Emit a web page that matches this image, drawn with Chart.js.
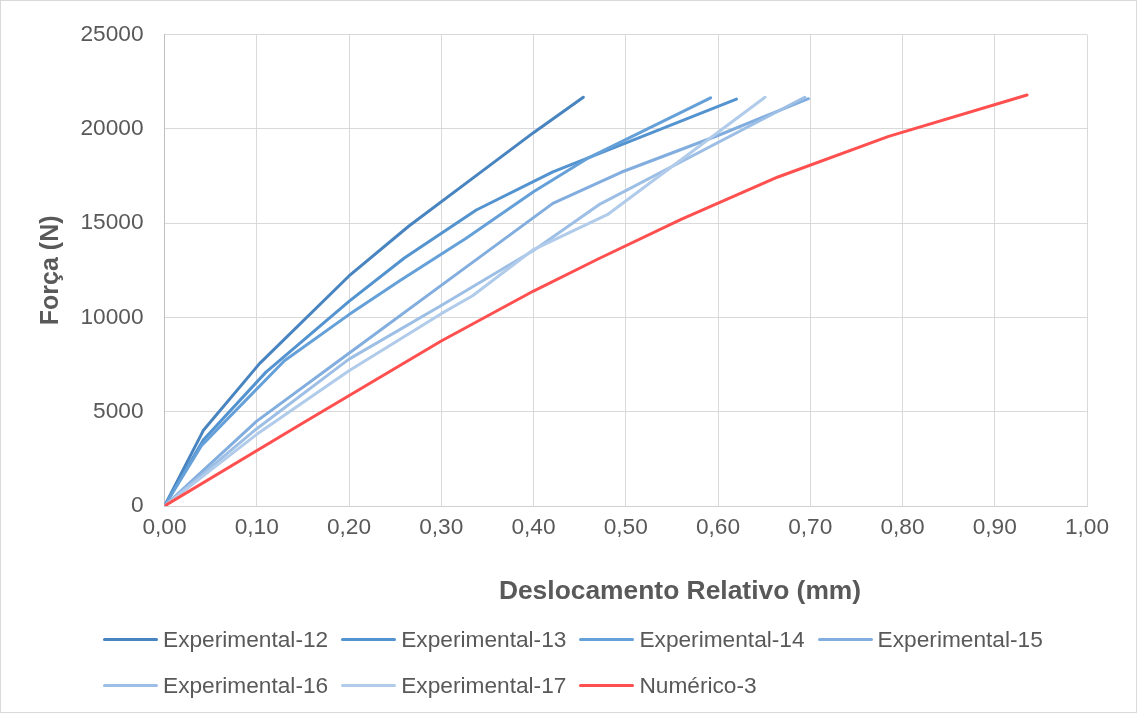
<!DOCTYPE html>
<html>
<head>
<meta charset="utf-8">
<script src="https://cdn.jsdelivr.net/npm/chart.js@4.4.1/dist/chart.umd.min.js"></script>
<style>
  html, body { margin: 0; padding: 0; background: #fff; }
  #wrap { position: relative; width: 1137px; height: 713px; }
  #frame { position: absolute; left: 0; top: 0; width: 1137px; height: 713px; box-sizing: border-box; border: 1px solid #d9d9d9; pointer-events: none; }
  #legend { position: absolute; left: 103px; top: 616px; width: 980px; display: flex; flex-wrap: wrap;
            font-family: 'Liberation Sans', Arial, sans-serif; font-size: 22.7px; color: #595959; }
  .item { display: flex; align-items: center; height: 46px; margin-right: 13px; white-space: nowrap; }
  .swatch { width: 55px; height: 3px; border-radius: 1.5px; margin-right: 5px; }
  #xtitle { position: absolute; left: 680px; top: 574px; transform: translateX(-50%); white-space: nowrap;
            font-family: 'Liberation Sans', Arial, sans-serif; font-size: 26.4px; font-weight: bold; color: #595959; line-height: 32px; }
</style>
</head>
<body>
<div id="wrap">
  <canvas id="c" width="1137" height="713"></canvas>
  <div id="xtitle"></div>
  <div id="legend"></div>
  <div id="frame"></div>
</div>
<script>
// ---- data ----
const seriesNames = ['Experimental-12','Experimental-13','Experimental-14','Experimental-15','Experimental-16','Experimental-17','Numérico-3'];
const seriesColors = ['#4884bf','#5393cf','#65a0d9','#82addf','#9dbfe5','#b1cbea','#ff4f4f'];

const exp12X = [0, 0.042, 0.103, 0.200, 0.265, 0.340, 0.400, 0.454];
const exp12Y = [0, 4000, 7550, 12200, 14850, 17600, 19800, 21680];

const exp13X = [0, 0.042, 0.110, 0.200, 0.260, 0.338, 0.421, 0.620];
const exp13Y = [0, 3500, 7100, 10850, 13150, 15700, 17720, 21580];

const exp14X = [0, 0.040, 0.130, 0.200, 0.255, 0.327, 0.400, 0.458, 0.592];
const exp14Y = [0, 3200, 7700, 10150, 11950, 14200, 16670, 18420, 21650];

const exp15X = [0, 0.100, 0.200, 0.300, 0.421, 0.495, 0.600, 0.698];
const exp15Y = [0, 4500, 8100, 11700, 16050, 17700, 19650, 21600];

const exp16X = [0, 0.100, 0.200, 0.300, 0.400, 0.471, 0.694];
const exp16Y = [0, 4100, 7790, 10630, 13550, 15980, 21680];

const exp17X = [0, 0.100, 0.200, 0.300, 0.334, 0.400, 0.480, 0.651];
const exp17Y = [0, 3800, 7170, 10200, 11150, 13600, 15450, 21680];

const num3X = [0, 0.150, 0.300, 0.400, 0.470, 0.560, 0.665, 0.785, 0.935];
const num3Y = [0, 4400, 8750, 11400, 13100, 15200, 17450, 19600, 21800];

const xTickLabels = ['0,00','0,10','0,20','0,30','0,40','0,50','0,60','0,70','0,80','0,90','1,00'];
const yTickLabels = ['0','5000','10000','15000','20000','25000'];
const xTitle = 'Deslocamento Relativo (mm)';
const yTitle = 'Força (N)';

// ---- build chart ----
const allX = [exp12X, exp13X, exp14X, exp15X, exp16X, exp17X, num3X];
const allY = [exp12Y, exp13Y, exp14Y, exp15Y, exp16Y, exp17Y, num3Y];
const n = seriesNames.length;
const datasets = seriesNames.map((name, i) => ({
  label: name,
  data: allX[i].map((x, k) => ({ x: x, y: allY[i][k] })),
  borderColor: seriesColors[i],
  backgroundColor: seriesColors[i],
  borderWidth: 3,
  borderCapStyle: 'round',
  borderJoinStyle: 'round',
  pointRadius: 0,
  showLine: true,
  tension: 0,
  order: n - 1 - i
}));

const FONT = "'Liberation Sans', Arial, sans-serif";
const TXT = '#595959';

new Chart(document.getElementById('c'), {
  type: 'scatter',
  data: { datasets },
  options: {
    responsive: false,
    animation: false,
    devicePixelRatio: 1,
    layout: { padding: { top: 32, right: 50, bottom: 97, left: 0 } },
    plugins: { legend: { display: false }, tooltip: { enabled: false } },
    scales: {
      x: {
        type: 'linear', min: 0, max: 1,
        ticks: { stepSize: 0.1, padding: 8, autoSkip: false, maxRotation: 0,
                 font: { family: FONT, size: 22.7 }, color: TXT,
                 callback: (v, i) => xTickLabels[i] },
        grid: { color: '#d9d9d9', lineWidth: 1, drawTicks: false },
        border: { color: '#d0d0d0', width: 1 },
        title: { display: false },
        afterFit: s => { s.height = 110; }
      },
      y: {
        type: 'linear', min: 0, max: 25000,
        ticks: { stepSize: 5000, padding: 21, font: { family: FONT, size: 22.7 }, color: TXT,
                 callback: (v, i) => yTickLabels[i] },
        grid: { color: '#d9d9d9', lineWidth: 1, drawTicks: false },
        border: { color: '#bfbfbf', width: 1 },
        title: { display: true, text: yTitle, color: TXT,
                 font: { family: FONT, size: 25, weight: 'bold' }, padding: { top: 36, bottom: 0 } },
        afterFit: s => { s.width = 164.5; }
      }
    }
  }
});

document.getElementById('xtitle').textContent = xTitle;

// ---- legend (HTML, from the same series arrays) ----
const leg = document.getElementById('legend');
seriesNames.forEach((name, i) => {
  const it = document.createElement('div'); it.className = 'item';
  const sw = document.createElement('span'); sw.className = 'swatch'; sw.style.background = seriesColors[i];
  const tx = document.createElement('span'); tx.textContent = name;
  it.appendChild(sw); it.appendChild(tx); leg.appendChild(it);
});
</script>
</body>
</html>
